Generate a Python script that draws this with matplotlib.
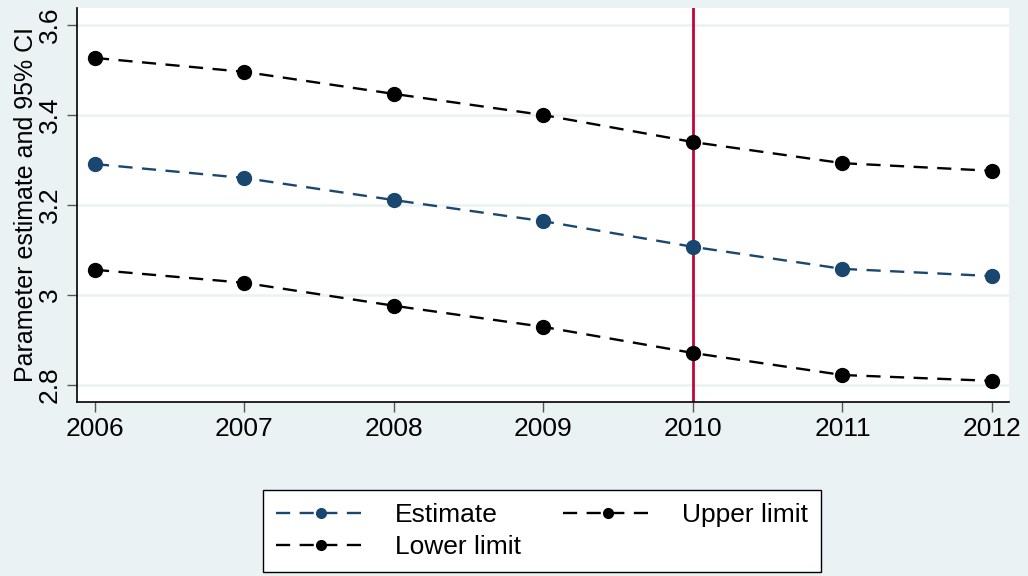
import matplotlib.pyplot as plt

years = [2006, 2007, 2008, 2009, 2010, 2011, 2012]
estimate = [3.291, 3.260, 3.211, 3.164, 3.107, 3.058, 3.042]
upper = [3.527, 3.496, 3.447, 3.400, 3.340, 3.293, 3.276]
lower = [3.056, 3.027, 2.976, 2.929, 2.871, 2.822, 2.809]
yticks = [2.8, 3.0, 3.2, 3.4, 3.6]
ytick_labels = ['2.8', '3', '3.2', '3.4', '3.6']
vline_year = 2010

bg = '#eaf2f3'
navy = '#1a476f'
red = '#c10534'

plt.rcParams['font.family'] = ['Liberation Sans', 'DejaVu Sans']

fig = plt.figure(figsize=(10.28, 5.76), dpi=100, facecolor=bg)
ax = fig.add_axes([77/1028, 1 - 402/576, (1009-77)/1028, (402-8)/576])
ax.set_facecolor('white')

for v in yticks:
    ax.axhline(v, color=bg, lw=1.8, zorder=0)

ax.axvline(vline_year, color=red, lw=2, zorder=1)

dash = (6, 4)
l_est, = ax.plot(years, estimate, color=navy, lw=1.7, dashes=dash, marker='o', ms=10, zorder=3)
l_up, = ax.plot(years, upper, color='black', lw=1.7, dashes=dash, marker='o', ms=10, zorder=3)
l_lo, = ax.plot(years, lower, color='black', lw=1.7, dashes=dash, marker='o', ms=10, zorder=3)

ax.set_xlim(2005.88, 2012.114)
ax.set_ylim(2.762, 3.638)
ax.set_xticks(years)
ax.set_xticklabels([str(y) for y in years], fontsize=19)
ax.set_yticks(yticks)
ax.set_yticklabels(ytick_labels, fontsize=19, rotation=90, va='center')
ax.tick_params(axis='both', direction='out', length=7, width=1, color='#555555', pad=4)

for s in ['top', 'right']:
    ax.spines[s].set_visible(False)
for s in ['left', 'bottom']:
    ax.spines[s].set_color('black')
    ax.spines[s].set_linewidth(1.2)

ax.set_ylabel('Parameter estimate and 95% CI', fontsize=18, labelpad=0)

# column-major fill: Estimate / Lower limit in col 1, Upper limit in col 2
leg = fig.legend([l_est, l_lo, l_up], ['Estimate', 'Lower limit', 'Upper limit'],
                 loc='center', bbox_to_anchor=(542/1028, 1 - 531/576), ncol=2,
                 fontsize=19, frameon=True, fancybox=False, edgecolor='black',
                 facecolor='white', framealpha=1,
                 handlelength=3.4, columnspacing=1.6, labelspacing=0.3,
                 borderpad=0.5, handletextpad=1.1, markerscale=0.7)
leg.get_frame().set_linewidth(1)

fig.savefig('out.png', dpi=100, facecolor=bg)
